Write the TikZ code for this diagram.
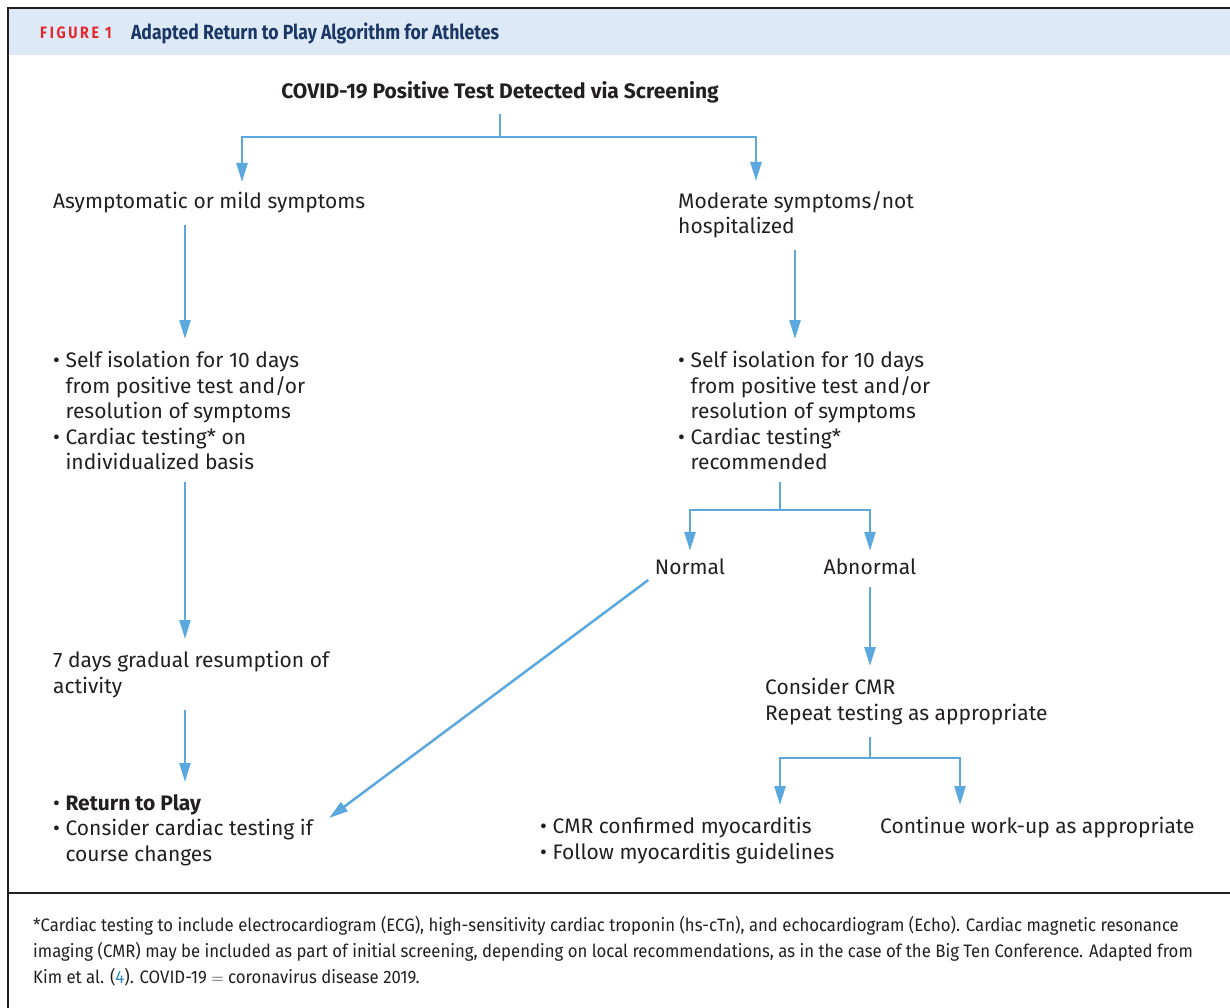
\documentclass[tikz,border=0pt]{standalone}
\usepackage{fontspec}
\setmainfont{Fira Sans}
\newfontfamily\notefont[FakeStretch=0.93]{Fira Sans}
\newfontfamily\headfont[FakeStretch=0.86]{Fira Sans}
\usepackage{tikz}
\usetikzlibrary{arrows.meta,positioning}
\usepackage{xcolor}
\definecolor{flow}{HTML}{5BA8DE}
\definecolor{ink}{HTML}{231F20}
\definecolor{headbg}{HTML}{DDE9F6}
\definecolor{navy}{HTML}{1B3766}
\definecolor{figred}{HTML}{E4262F}
\definecolor{refblue}{HTML}{2A8BC9}
\newcommand{\bulletmark}{\textbullet\ }
\newcommand{\bulletgap}{\hphantom{\textbullet\ }}

\begin{document}
\begin{tikzpicture}[x=1pt, y=-1pt,
  arr/.style={-{Triangle[length=19pt, width=11pt]}, flow, line width=2.5pt},
  link/.style={flow, line width=2.5pt},
  txt/.style={anchor=north west, inner sep=0pt, align=left, text=ink, font=\fontsize{21}{25.5}\selectfont},
  ctr/.style={txt, anchor=center},
  rule/.style={draw=ink, line width=1.5pt}
]
\useasboundingbox (0,0) rectangle (1230,1008);

% Frame and header band
\fill[headbg] (9,9) rectangle (1230,55);
\draw[rule, line width=2pt] (8,1008) -- (8,8) -- (1230,8);
\draw[rule] (8,893) -- (1230,893);
\node[anchor=west, inner sep=0pt, text=figred, font=\headfont\fontsize{16.5}{18}\selectfont\bfseries\addfontfeature{LetterSpace=16}] (fig) at (40,33) {FIGURE 1};
\node[right=19pt of fig, inner sep=0pt, text=navy, font=\headfont\fontsize{20.5}{22}\selectfont\bfseries] (title) {Adapted Return to Play Algorithm for Athletes};

% Column coordinates
\coordinate (xA) at (242,0);
\coordinate (xB) at (756,0);
\coordinate (xL) at (185,0);
\coordinate (xR) at (795,0);
\coordinate (xM) at (780,0);
\coordinate (xC) at (960,0);
\coordinate (splitTop) at (500,137);
\coordinate (splitR) at (780,510);
\coordinate (splitC) at (870,758);

% Boxes of text
\node[ctr, font=\fontsize{21}{25.5}\selectfont\bfseries] (top) at (500,92) {COVID-19 Positive Test Detected via Screening};
\node[txt] (asym) at (53,192) {Asymptomatic or mild symptoms};
\node[txt] (mod) at (678,191) {Moderate symptoms/not\\hospitalized};
\node[txt] (isoL) at (53,351) {\bulletmark Self isolation for 10 days\\\bulletgap from positive test and/or\\\bulletgap resolution of symptoms\\\bulletmark Cardiac testing* on\\\bulletgap individualized basis};
\node[txt] (isoR) at (678,351) {\bulletmark Self isolation for 10 days\\\bulletgap from positive test and/or\\\bulletgap resolution of symptoms\\\bulletmark Cardiac testing*\\\bulletgap recommended};
\node[txt] (grad) at (53,651) {7 days gradual resumption of\\activity};
\node[txt] (rtp) at (53,794) {\bulletmark\textbf{Return to Play}\\\bulletmark Consider cardiac testing if\\\bulletgap course changes};
\node[ctr] (normal) at (690,567) {Normal};
\node[ctr] (abnormal) at (870,567) {Abnormal};
\node[txt] (cmr) at (765,678) {Consider CMR\\Repeat testing as appropriate};
\node[txt] (myo) at (540,817) {\bulletmark CMR confirmed myocarditis\\\bulletmark Follow myocarditis guidelines};
\node[txt] (cont) at (880,817) {Continue work-up as appropriate};

% Connectors
\draw[link, shorten <=11pt] (top) -- (splitTop);
\draw[arr, shorten >=10pt] (splitTop) -| (asym.north -| xA);
\draw[arr, shorten >=10pt] (splitTop) -| (mod.north -| xB);
\draw[arr, shorten <=12pt, shorten >=12pt] (asym.south -| xL) -- (isoL.north -| xL);
\draw[arr, shorten <=12pt, shorten >=12pt] (isoL.south -| xL) -- (grad.north -| xL);
\draw[arr, shorten <=12pt, shorten >=12pt] (grad.south -| xL) -- (rtp.north -| xL);
\draw[arr, shorten <=12pt, shorten >=12pt] (mod.south -| xR) -- (isoR.north -| xR);
\draw[link, shorten <=12pt] (isoR.south -| splitR) -- (splitR);
\draw[arr, shorten >=8pt] (splitR) -| (normal.north);
\draw[arr, shorten >=8pt] (splitR) -| (abnormal.north);
\draw[arr, shorten <=8pt, shorten >=20pt] (normal.south west) -- (rtp.east);
\draw[arr, shorten <=12pt, shorten >=12pt] (abnormal.south) -- (cmr.north -| abnormal.south);
\draw[link, shorten <=12pt] (cmr.south -| splitC) -- (splitC);
\draw[arr, shorten >=12pt] (splitC) -| (myo.north -| xM);
\draw[arr, shorten >=12pt] (splitC) -| (cont.north -| xC);

% Footnote
\node[txt, anchor=west, font=\notefont\fontsize{18}{26}\selectfont] (note) at (33,951) {*Cardiac testing to include electrocardiogram (ECG), high-sensitivity cardiac troponin (hs-cTn), and echocardiogram (Echo). Cardiac magnetic resonance\\imaging (CMR) may be included as part of initial screening, depending on local recommendations, as in the case of the Big Ten Conference. Adapted from\\Kim et al. ({\color{refblue}4}). COVID-19 $=$ coronavirus disease 2019.};

\end{tikzpicture}
\end{document}
